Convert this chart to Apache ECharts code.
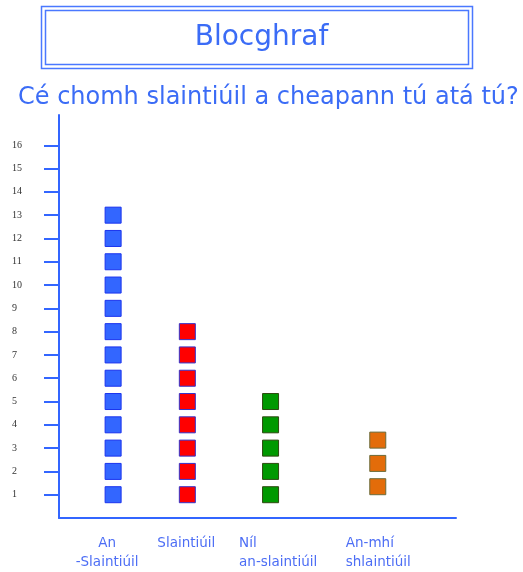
<!DOCTYPE html>
<html>
<head>
<meta charset="utf-8">
<script src="https://cdn.jsdelivr.net/npm/echarts@6/dist/echarts.min.js"></script>
<style>html,body{margin:0;padding:0;background:#fff}#c{width:523px;height:572px}</style>
</head>
<body>
<div id="c"></div>
<script>
const titleText = 'Blocghraf';
const subtitleText = 'Cé chomh slaintiúil a cheapann tú atá tú?';
const categories = [['An', '-Slaintiúil'], ['Slaintiúil'], ['Níl', 'an-slaintiúil'], ['An-mhí', 'shlaintiúil']];
const counts = [13, 8, 5, 3];
const yTicks = [1, 2, 3, 4, 5, 6, 7, 8, 9, 10, 11, 12, 13, 14, 15, 16];

const fills = ['#3366ff', '#ff0000', '#009900', '#e36c0a'];
const borders = ['#1a33ee', '#3333cc', '#2e4a10', '#6b6b3a'];
const offsets = [[10, 0], [-4, 0], [-9, 0], [10, -8]];
const labelTags = ['a', 'b', 'c', 'd'];

const series = counts.map((n, i) => {
  const pts = [];
  for (let k = 1; k <= n; k++) pts.push([i, k]);
  return {
    type: 'scatter',
    symbol: 'rect',
    symbolSize: 16,
    symbolOffset: offsets[i],
    data: pts,
    itemStyle: { color: fills[i], borderColor: borders[i], borderWidth: 1, opacity: 1 },
    silent: true
  };
});

const labelBase = { color: '#4d6ef5', fontFamily: 'DejaVu Sans', fontSize: 13.5, lineHeight: 19 };

const chart = echarts.init(document.getElementById('c'), null, { renderer: 'canvas' });
chart.setOption({
  animation: false,
  backgroundColor: '#fff',
  graphic: [
    { type: 'rect', shape: { x: 41.5, y: 6.5, width: 431, height: 62 }, style: { fill: 'none', stroke: '#4a78ff', lineWidth: 1.5 } },
    { type: 'rect', shape: { x: 45.5, y: 10.5, width: 423, height: 54 }, style: { fill: 'none', stroke: '#4a78ff', lineWidth: 1.5 } },
    { type: 'text', left: 'center', top: 24, style: { text: titleText, fill: '#3b6cf6', font: '500 28px "DejaVu Sans"' } },
    { type: 'text', left: 18, top: 86, style: { text: subtitleText, fill: '#3b6cf6', font: '24px "DejaVu Sans"' } }
  ],
  grid: { left: 59, top: 115, right: 67, bottom: 53 },
  xAxis: {
    type: 'value',
    min: -0.5,
    max: 4,
    axisLine: { show: true, onZero: false, lineStyle: { color: '#3366ff', width: 2 } },
    axisTick: { show: false },
    splitLine: { show: false },
    axisLabel: {
      customValues: [0, 1, 2, 3],
      formatter: v => {
        const i = Math.round(v);
        return categories[i].map(t => '{' + labelTags[i] + '|' + t + '}').join('\n');
      },
      margin: 16,
      ...labelBase,
      rich: {
        a: { ...labelBase, align: 'center', width: 70, padding: [0, 0, 0, 8] },
        b: { ...labelBase, align: 'center', width: 70, padding: [0, 10, 0, 0] },
        c: { ...labelBase, align: 'left', width: 81 },
        d: { ...labelBase, align: 'left', width: 68, padding: [0, 0, 0, 24] }
      }
    }
  },
  yAxis: {
    type: 'value',
    min: 0,
    max: 17.3,
    axisLine: { show: true, onZero: false, lineStyle: { color: '#3366ff', width: 2 } },
    axisTick: { show: true, customValues: yTicks, length: 15, lineStyle: { color: '#3366ff', width: 2 } },
    splitLine: { show: false },
    axisLabel: {
      customValues: yTicks,
      color: '#333',
      fontFamily: 'Liberation Serif',
      fontSize: 10,
      margin: 47,
      align: 'left'
    }
  },
  series: series
});
</script>
</body>
</html>
